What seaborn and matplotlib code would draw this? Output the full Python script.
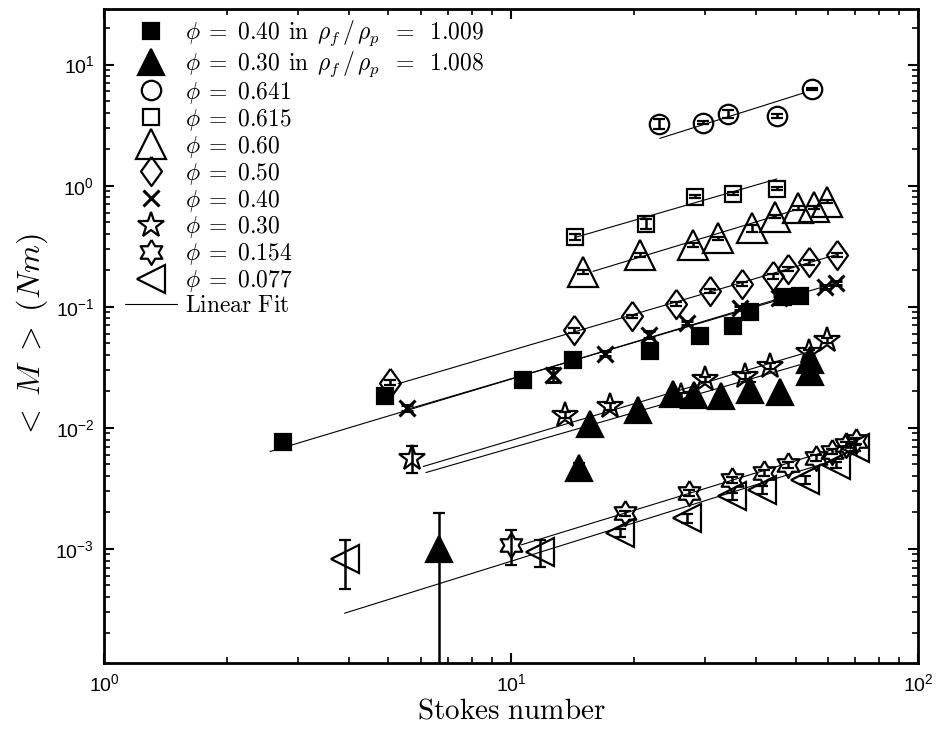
import numpy as np
import matplotlib
matplotlib.use("Agg")
import matplotlib.pyplot as plt
from matplotlib.lines import Line2D
from matplotlib.ticker import LogLocator, NullFormatter
import seaborn as sns

sns.set_style("ticks", {"axes.edgecolor": "k", "xtick.color": "k", "ytick.color": "k",
                        "axes.labelcolor": "k", "text.color": "k"})
plt.rcParams["font.family"] = ["Liberation Sans", "DejaVu Sans"]
plt.rcParams["mathtext.fontset"] = "cm"

# phi = 0.40 in rho_f/rho_p = 1.009 (filled squares)
st_sq_rho = [2.76, 4.90, 10.7, 14.2, 22.0, 29.2, 35.2, 38.6, 46.6, 51.4]
m_sq_rho = [0.0077, 0.0184, 0.0249, 0.0360, 0.0427, 0.0576, 0.0699, 0.0897, 0.121, 0.122]
e_sq_rho = [0.0003, 0.0006, 0.0008, 0.0012, 0.0014, 0.0018, 0.0022, 0.003, 0.004, 0.004]

# phi = 0.30 in rho_f/rho_p = 1.008 (filled triangles)
st_tri_rho = [6.67, 14.65, 15.6, 20.5, 25.0, 28.1, 32.8, 38.6, 45.9, 54.3, 54.3]
m_tri_rho = [0.00099, 0.00464, 0.01077, 0.01414, 0.01916, 0.0186, 0.0182, 0.0204, 0.0198, 0.0361, 0.0289]
e_tri_rho = [0.00097, 0.0005, 0.0005, 0.0006, 0.0008, 0.0008, 0.0008, 0.0035, 0.0009, 0.0015, 0.0012]

# phi = 0.641
st_641 = [23.1, 29.6, 34.1, 45.0, 54.9]
m_641 = [3.25, 3.32, 3.94, 3.79, 6.34]
e_641 = [0.30, 0.10, 0.30, 0.15, 0.12]

# phi = 0.615
st_615 = [14.4, 21.5, 28.3, 35.1, 45.0]
m_615 = [0.379, 0.485, 0.811, 0.859, 0.944]
e_615 = [0.02, 0.045, 0.025, 0.02, 0.025]

# phi = 0.60
st_60 = [15.05, 20.75, 28.05, 32.3, 39.0, 44.4, 50.8, 55.5, 59.7]
m_60 = [0.194, 0.268, 0.323, 0.368, 0.445, 0.556, 0.654, 0.664, 0.736]
e_60 = [0.006, 0.01, 0.01, 0.012, 0.028, 0.015, 0.02, 0.02, 0.02]

# phi = 0.50
st_50 = [5.04, 14.3, 19.8, 25.5, 30.8, 37.0, 44.0, 48.0, 54.1, 63.2]
m_50 = [0.0236, 0.0637, 0.0831, 0.106, 0.136, 0.154, 0.178, 0.205, 0.232, 0.269]
e_50 = [0.001, 0.0025, 0.003, 0.004, 0.005, 0.006, 0.007, 0.008, 0.009, 0.01]

# phi = 0.40
st_40 = [5.55, 12.7, 17.0, 21.8, 27.1, 36.5, 45.5, 59.1, 62.9]
m_40 = [0.01456, 0.0274, 0.0409, 0.0587, 0.0730, 0.0972, 0.1176, 0.146, 0.158]
e_40 = [0.0008, 0.0035, 0.002, 0.004, 0.003, 0.004, 0.005, 0.006, 0.006]

# phi = 0.30
st_30 = [5.70, 13.6, 17.5, 26.2, 29.9, 37.6, 43.3, 54.0, 59.9]
m_30 = [0.00562, 0.0128, 0.0150, 0.0184, 0.0251, 0.0269, 0.0324, 0.0421, 0.0528]
e_30 = [0.0014, 0.0008, 0.0009, 0.0010, 0.0013, 0.0014, 0.0017, 0.0022, 0.0027]

# phi = 0.154
st_154 = [9.99, 19.1, 27.3, 34.9, 41.9, 47.8, 56.2, 61.5, 66.7, 70.5]
m_154 = [0.00108, 0.00197, 0.00289, 0.00372, 0.00422, 0.00494, 0.00562, 0.00637, 0.00724, 0.0078]
e_154 = [0.00035, 0.0001, 0.00015, 0.0002, 0.00022, 0.00025, 0.0003, 0.00032, 0.00036, 0.0004]

# phi = 0.077
st_077 = [3.90, 11.8, 18.5, 27.1, 35.0, 41.4, 52.8, 62.7, 70.2]
m_077 = [0.000822, 0.00095, 0.00135, 0.00179, 0.00271, 0.00307, 0.00372, 0.00494, 0.00679]
e_077 = [0.00036, 0.00024, 0.0001, 0.00014, 0.0002, 0.00022, 0.00026, 0.0003, 0.0004]

# power-law fits  M = c * St^k  between St_lo and St_hi (same order as the series)
fit_k = [1.01, 0.969, 1.061, 0.974, 1.02, 0.99, 0.99, 1.0, 1.03, 1.05]
fit_c = [0.002465, 0.000731, 0.0875, 0.02786, 0.01166, 0.00445, 0.0026, 0.000787, 9.49e-5, 7.04e-5]
fit_lo = [2.56, 6.18, 23.2, 14.5, 15.9, 5.28, 5.55, 6.09, 10.6, 3.9]
fit_hi = [53.0, 51.3, 52.3, 45.0, 50.3, 63.0, 63.0, 54.1, 70.0, 70.0]

labels = [
    r"$\phi\;=\;0.40\;\,\mathrm{in}\;\,\rho_f\,/\,\rho_p\;\;=\;\;1.009$",
    r"$\phi\;=\;0.30\;\,\mathrm{in}\;\,\rho_f\,/\,\rho_p\;\;=\;\;1.008$",
    r"$\phi\;=\;0.641$",
    r"$\phi\;=\;0.615$",
    r"$\phi\;=\;0.60$",
    r"$\phi\;=\;0.50$",
    r"$\phi\;=\;0.40$",
    r"$\phi\;=\;0.30$",
    r"$\phi\;=\;0.154$",
    r"$\phi\;=\;0.077$",
]

# marker shapes
diamond = [(0, 1), (0.72, 0), (0, -1), (-0.72, 0), (0, 1)]
a_out = np.deg2rad(90 + 60 * np.arange(6))
a_in = a_out + np.deg2rad(30)
hexagram = []
for ao, ai in zip(a_out, a_in):
    hexagram.append((np.cos(ao), np.sin(ao)))
    hexagram.append((np.cos(ai) / np.sqrt(3), np.sin(ai) / np.sqrt(3)))
hexagram.append(hexagram[0])

series = [
    (st_sq_rho, m_sq_rho, e_sq_rho, dict(marker="s", ms=12, mfc="k")),
    (st_tri_rho, m_tri_rho, e_tri_rho, dict(marker="^", ms=19, mfc="k")),
    (st_641, m_641, e_641, dict(marker="o", ms=14, mfc="none")),
    (st_615, m_615, e_615, dict(marker="s", ms=12, mfc="none")),
    (st_60, m_60, e_60, dict(marker="^", ms=22, mfc="none")),
    (st_50, m_50, e_50, dict(marker=diamond, ms=21, mfc="none")),
    (st_40, m_40, e_40, dict(marker="x", ms=12, mfc="none")),
    (st_30, m_30, e_30, dict(marker="*", ms=19, mfc="none")),
    (st_154, m_154, e_154, dict(marker=hexagram, ms=18, mfc="none")),
    (st_077, m_077, e_077, dict(marker="<", ms=20, mfc="none")),
]

fig = plt.figure(figsize=(9.41, 7.38), dpi=100)
ax = fig.add_axes([0.1105, 0.1016, 0.8651, 0.8862])
ax.set_xscale("log")
ax.set_yscale("log")

for k, c, lo, hi in zip(fit_k, fit_c, fit_lo, fit_hi):
    xs = np.array([lo, hi])
    sns.lineplot(x=xs, y=c * xs ** k, color="k", lw=0.8, ax=ax, zorder=3)

handles = []
for (x, y, e, st), lab in zip(series, labels):
    mew = 2.2 if st["marker"] == "x" else 1.6
    ax.errorbar(x, y, yerr=e, ls="none", mec="k", color="k", mew=mew,
                ecolor="k", elinewidth=1.8, capsize=4.5, capthick=1.8, zorder=4, **st)
    handles.append(Line2D([], [], ls="none", mec="k", color="k", mew=mew, **st))
handles.append(Line2D([], [], color="k", lw=0.8))
labels.append(r"$\mathrm{Linear\ Fit}$")

ax.set_xlim(1, 100)
ax.set_ylim(1.14e-4, 28.8)
ax.yaxis.set_major_locator(LogLocator(base=10, numticks=20))
ax.yaxis.set_minor_locator(LogLocator(base=10, subs=np.arange(2, 10), numticks=50))
ax.yaxis.set_minor_formatter(NullFormatter())
ax.xaxis.set_minor_locator(LogLocator(base=10, subs=np.arange(2, 10), numticks=50))
ax.xaxis.set_minor_formatter(NullFormatter())

for sp in ax.spines.values():
    sp.set_linewidth(2)
    sp.set_color("k")
ax.tick_params(which="both", direction="in", top=True, right=True, labelsize=14,
               color="k", labelcolor="k")
ax.tick_params(which="major", length=7, width=1.5, pad=7)
ax.tick_params(which="minor", length=4, width=1.2)

ax.set_xlabel(r"$\mathrm{Stokes\ number}$", fontsize=21, labelpad=1)
ax.set_ylabel(r"$<\;M\;>\ (Nm)$", fontsize=23, labelpad=4)

ax.legend(handles, labels, loc="upper left", bbox_to_anchor=(0.026, 0.985),
          frameon=False, fontsize=17, handlelength=2.2, handletextpad=0.35,
          labelspacing=0.04, borderpad=0, borderaxespad=0)

fig.savefig("out.png", dpi=100)
